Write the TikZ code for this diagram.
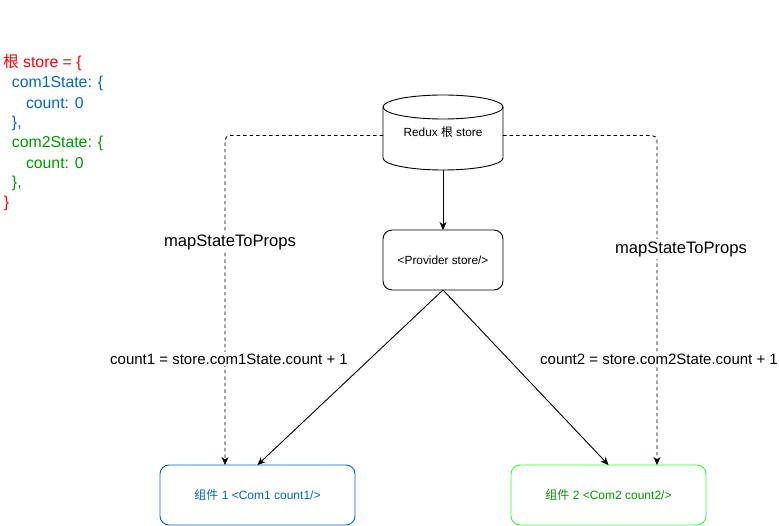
\documentclass[tikz,border=0pt]{standalone}
\usepackage{fontspec}
\setmainfont{Liberation Sans}
\newfontfamily\cjk{Noto Sans CJK SC}
\usetikzlibrary{arrows.meta}
\definecolor{codered}{HTML}{FF0000}
\definecolor{codeblue}{HTML}{0066CC}
\definecolor{codegreen}{HTML}{009900}
\definecolor{limegreen}{HTML}{33FF33}
\begin{document}
\begin{tikzpicture}[x=1pt,y=-1pt,
  every node/.style={inner sep=0pt,outer sep=0pt},
  tip/.style={-{Stealth[length=8pt,width=7pt,inset=2.5pt]}},
  conn/.style={draw=black,line width=0.9pt,tip},
  dconn/.style={conn,dash pattern=on 3.5pt off 3pt,rounded corners=5pt},
  box/.style={draw,rounded corners=9pt,line width=0.9pt,minimum width=120pt,minimum height=60pt,font=\fontsize{11.8}{14}\selectfont},
  compbox/.style={draw,rounded corners=9pt,line width=0.9pt,minimum width=195pt,minimum height=60pt,font=\fontsize{12}{14}\selectfont},
  lbl/.style={fill=white,inner sep=2pt,font=\fontsize{15}{18}\selectfont},
  maplbl/.style={fill=white,inner sep=2pt,font=\fontsize{16.6}{19}\selectfont},
  code/.style={anchor=west,font=\fontsize{15.8}{18}\selectfont}]
\useasboundingbox (0,0) rectangle (779,526);

% store object
\node[code,text=codered] (l1) at (3,63) {{\cjk 根} store = \{};
\node[code,text=codeblue] (l2) at (12,83) {com1State: \{};
\node[code,text=codeblue] (l3) at (26,103) {count: 0};
\node[code,text=codeblue] (l4) at (12,123) {\},};
\node[code,text=codegreen] (l5) at (12,143) {com2State: \{};
\node[code,text=codegreen] (l6) at (26,163) {count: 0};
\node[code,text=codegreen] (l7) at (12,183) {\},};
\node[code,text=codered] (l8) at (4,203) {\}};

% root store cylinder
\node[minimum width=120pt,minimum height=75pt,font=\fontsize{11.8}{14}\selectfont] (redux) at (443,132.5) {Redux {\cjk 根} store};
\draw[line width=0.9pt] (383,107) -- (383,158)
  arc[start angle=180,end angle=360,x radius=60pt,y radius=12pt] -- (503,107);
\draw[line width=0.9pt] (443,107) ellipse[x radius=60pt,y radius=12pt];

% provider and components
\node[box] (provider) at (443,260) {<Provider store/>};
\node[compbox,draw=codeblue,text=codeblue] (comp1) at (257.5,495) {{\cjk 组件} 1 <Com1 count1/>};
\node[compbox,draw=limegreen,text=codegreen] (comp2) at (608.5,495) {{\cjk 组件} 2 <Com2 count2/>};

% connectors
\draw[conn] (redux.south) -- (provider.north);
\draw[conn] (provider.south) -- (comp1.north);
\draw[conn] (provider.south) -- (comp2.north);
\draw[dconn] ([yshift=-3pt]redux.west) -| ([xshift=-32.5pt]comp1.north);
\draw[dconn] ([yshift=-3pt]redux.east) -| ([xshift=48.5pt]comp2.north);

% labels
\node[maplbl] (map1) at (230,242) {mapStateToProps};
\node[maplbl] (map2) at (681,249) {mapStateToProps};
\node[lbl] (cnt1) at (229,359) {count1 = store.com1State.count + 1};
\node[lbl] (cnt2) at (659,359) {count2 = store.com2State.count + 1};
\end{tikzpicture}
\end{document}
